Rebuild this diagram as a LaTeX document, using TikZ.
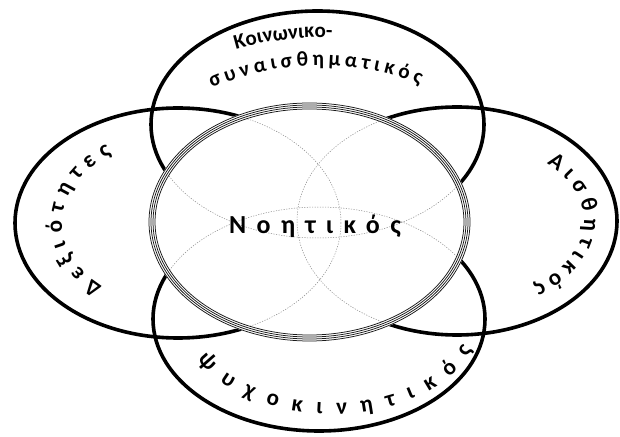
\documentclass[tikz,border=0pt]{standalone}
\usepackage{fontspec}
\usetikzlibrary{decorations.text}
\newfontfamily\lblfamily{Carlito}
\newfontfamily\midfamily[LetterSpace=40]{Carlito}
\newcommand\myLabelFont{\lblfamily\bfseries\fontsize{21}{25}\selectfont}
\newcommand\myBigLabelFont{\lblfamily\bfseries\fontsize{23}{27}\selectfont}
\newcommand\myMidFont{\midfamily\bfseries\fontsize{26}{30}\selectfont}
\tikzset{
  thinline/.style={line width=0.9pt, black},
  thickline/.style={line width=3.6pt, black},
  dotline/.style={line width=0.5pt, black!45, dash pattern=on 1.2pt off 1.4pt},
  ringline/.style={line width=0.75pt, black!90},
  lblfit/.style={decorate, decoration={text along path, text align={fit to path}, text={|\myLabelFont|#1}}},
  lblbig/.style={decorate, decoration={text along path, text align={fit to path}, text={|\myBigLabelFont|#1}}},
  lblmid/.style={decorate, decoration={text along path, text align=center, text={|\myLabelFont|#1}}},
  Tell/.style={x radius=166.5pt, y radius=113.5pt},
  Lell/.style={x radius=163pt, y radius=115pt},
  Rell/.style={x radius=160pt, y radius=114pt},
  Bell/.style={x radius=166pt, y radius=112pt},
}
\begin{document}
\begin{tikzpicture}[x=1pt,y=1pt]
\useasboundingbox (0,0) rectangle (620,436);
\fill[white] (0,0) rectangle (620,436);
\coordinate (Tc) at (317.5,311.5);
\coordinate (Lc) at (178,213);
\coordinate (Rc) at (457,215);
\coordinate (Bc) at (319,117);
\coordinate (Cc) at (309.5,214);
\coordinate (Tt) at (320,99.5);
\coordinate (Bt) at (332,117);

% thin full outlines
\draw[thinline] (Tc) ellipse [Tell];
\draw[thinline] (Lc) ellipse [Lell];
\draw[thinline] (Rc) ellipse [Rell];
\draw[thinline] (Bc) ellipse [Bell];

% thick parts (woven)
\begin{scope}
  \clip (Lc) ellipse [Lell] (-20,460) rectangle (640,-20);
  \draw[thickline] (Tc) ellipse [Tell];
\end{scope}
\begin{scope}
  \clip (Tc) ellipse [Tell] (-20,460) rectangle (640,-20);
  \draw[thickline] (Rc) ellipse [Rell];
\end{scope}
\begin{scope}
  \clip (Rc) ellipse [Rell] (-20,460) rectangle (640,-20);
  \draw[thickline] (Bc) ellipse [Bell];
\end{scope}
\begin{scope}
  \clip (Bc) ellipse [Bell] (-20,460) rectangle (640,-20);
  \draw[thickline] (Lc) ellipse [Lell];
\end{scope}

% central ellipse
\fill[white] (Cc) ellipse [x radius=161pt, y radius=119.5pt];
\begin{scope}
  \clip (Cc) ellipse [x radius=155pt, y radius=113pt];
  \draw[dotline] (Tc) ellipse [Tell];
  \draw[dotline] (Lc) ellipse [Lell];
  \draw[dotline] (Rc) ellipse [Rell];
  \draw[dotline] (Bc) ellipse [Bell];
\end{scope}
\foreach \d in {-3,-1,1,3}
  \draw[ringline] (Cc) ellipse [x radius={157.5pt+\d pt}, y radius={116pt+\d pt}];

% labels
\path[lblmid={Κοινωνικο-}] ([shift={(112:299pt)}]Tt) arc[start angle=112, end angle=82, radius=299pt];
\path[lblfit={συναισθηματικός}] ([shift={(113.5:271pt)}]Tt) arc[start angle=113.5, end angle=68.4, radius=271pt];
\path[lblbig={Δεξιότητες}] ([shift={(229:116pt and 84pt)}]Lc) arc[start angle=229, end angle=125, x radius=116pt, y radius=84pt];
\path[lblbig={Αισθητικός}] ([shift={(45:127pt and 81pt)}]Rc) arc[start angle=45, end angle=-53, x radius=127pt, y radius=81pt];
\path[lblbig={ψυχοκινητικός}] ([shift={(205:148pt and 95pt)}]Bt) arc[start angle=205, end angle=341, x radius=148pt, y radius=95pt];

\node[font=\myMidFont, anchor=base, inner sep=0pt] (noetikos) at (315,202) {Νοητικός};
\end{tikzpicture}
\end{document}
